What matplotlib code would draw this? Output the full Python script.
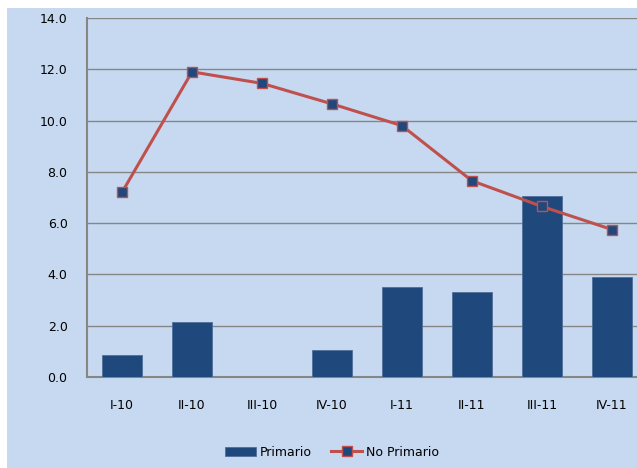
import matplotlib.pyplot as plt
from matplotlib.patches import Rectangle

quarters = ["I-10", "II-10", "III-10", "IV-10", "I-11", "II-11", "III-11", "IV-11"]
primario = [0.85, 2.15, 0.0, 1.05, 3.5, 3.3, 7.05, 3.9]
no_primario = [7.2, 11.9, 11.45, 10.65, 9.8, 7.65, 6.65, 5.75]

BG = "#c6d9f0"
BLUE = "#1f497d"
RED = "#c0504d"

fig = plt.figure(figsize=(6.37, 4.68), dpi=100, facecolor="white")
fig.patches.append(Rectangle((7 / 637, 0), 1, 1 - 8 / 468, transform=fig.transFigure,
                             facecolor=BG, edgecolor="none", zorder=-5))

ax = fig.add_axes([87 / 637, 1 - 377 / 468, 560 / 637, 359 / 468])
ax.set_facecolor(BG)

x = range(len(quarters))
bars = ax.bar(x, primario, width=0.57, color=BLUE, edgecolor="#4f6f9a", linewidth=0.6,
              label="Primario", zorder=3)
line, = ax.plot(x, no_primario, color=RED, linewidth=2.2, marker="s", markersize=7.5,
                markerfacecolor=BLUE, markeredgecolor=RED, markeredgewidth=1.0,
                label="No Primario", zorder=4)

ax.set_xlim(-0.5, len(quarters) - 0.5)
ax.set_ylim(0, 14)
ax.set_yticks([0, 2, 4, 6, 8, 10, 12, 14])
ax.set_yticklabels([f"{v:.1f}" for v in [0, 2, 4, 6, 8, 10, 12, 14]])
ax.set_xticks(list(x))
ax.set_xticklabels(quarters)
ax.tick_params(axis="y", length=0, pad=14, labelsize=9)
ax.tick_params(axis="x", length=0, pad=16, labelsize=9)
ax.grid(axis="y", color="#868686", linewidth=1.0, zorder=1)
ax.set_axisbelow(True)
for s in ["top", "right"]:
    ax.spines[s].set_visible(False)
for s in ["left", "bottom"]:
    ax.spines[s].set_color("#868686")
    ax.spines[s].set_linewidth(1.5)

fig.legend([bars, line], ["Primario", "No Primario"], loc="center",
           bbox_to_anchor=(332 / 637, 1 - 452 / 468), ncol=2,
           frameon=False, fontsize=9, handlelength=2.5, handletextpad=0.3,
           columnspacing=1.5)

fig.savefig("out.png", dpi=100, facecolor="white")
